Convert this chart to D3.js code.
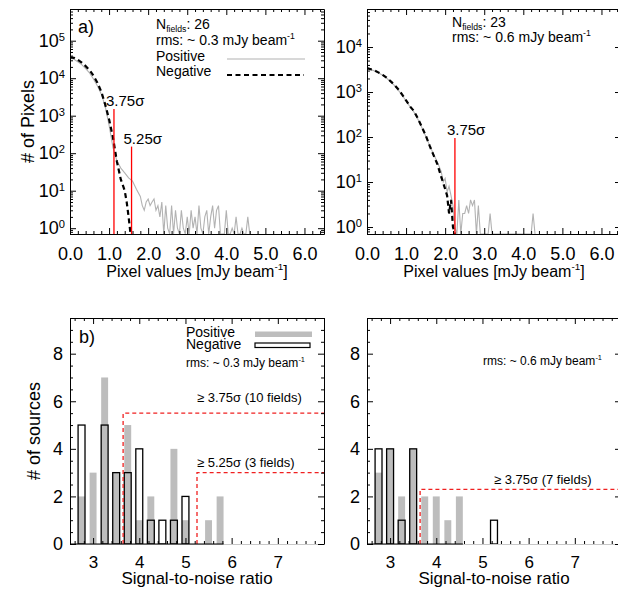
<!DOCTYPE html>
<html><head><meta charset="utf-8">
<script src="https://cdn.jsdelivr.net/npm/d3@7/dist/d3.min.js"></script>
<style>
html,body{margin:0;padding:0;background:#fff;}
svg{display:block;font-family:"Liberation Sans",Arial,Helvetica,sans-serif;}
</style></head><body>
<svg id="chart" width="618" height="590" viewBox="0 0 618 590"></svg>
<script>
// ================= DATA =================
// Panel a) left: rms ~0.3 mJy/beam, 26 fields (pixel value, number of pixels)
const tlPosX = [0,0.1,0.2,0.3,0.4,0.5,0.6,0.7,0.8,0.9,1.0,1.1,1.2,1.3,1.4,1.5,1.6,1.7,1.8,
  1.85,1.9,1.95,2.0,2.05,2.1,2.15,2.2,2.25,2.3,2.35,2.4,2.45,2.5,2.55,2.6,2.65,2.7,2.75,2.8,
  2.85,2.9,2.95,3.0,3.05,3.1,3.15,3.2,3.25,3.3,3.35,3.4,3.45,3.5,3.55,3.6,3.65,3.7,3.75,3.8,
  3.85,3.9,3.95,4.0,4.05,4.1,4.15,4.2,4.25,4.3,4.35,4.4,4.45,4.5,4.55,4.6];
const tlPosN = [34000,32000,27500,23000,18000,13800,9500,6300,3800,1800,560,140,63,40,30,22,18,11,7,
  4,3,5,6,4,5,6,3,4,2,5,0,4,1,0,4,0,3,1,0,
  3,1,0,2,0,3,1,2,0,4,1,0,2,3,0,2,4,1,3,4,
  0,0,0,3,0,0,1,0,2,0,0,1,0,0,2,0];
const tlNegX = [0,0.1,0.2,0.3,0.4,0.5,0.6,0.7,0.8,0.9,1.0,1.1,1.2,1.3,1.4,1.45,1.5,1.55];
const tlNegN = [36000,35000,31000,26000,21000,16500,11700,7600,4400,2000,800,260,60,20,10,5,2,0];
const tlSigma = [1.125, 1.575];          // 3.75 sigma, 5.25 sigma (mJy/beam)
const tlSigmaTop = [1500, 150];
const tlSigmaLabels = ["3.75σ", "5.25σ"];

// Panel a) right: rms ~0.6 mJy/beam, 23 fields
const trPosX = [0,0.1,0.2,0.3,0.4,0.5,0.6,0.7,0.8,0.9,1.0,1.1,1.2,1.3,1.4,1.5,1.6,1.7,1.8,1.9,
  1.95,2.0,2.05,2.1,2.15,2.2,2.25,2.3,2.35,2.4,2.45,2.5,2.55,2.6,2.65,2.7,2.75,2.8,2.85,2.9,
  2.95,3.0,3.05,3.1,3.15,3.2,4.2,4.25,4.3];
const trPosN = [3300,3150,2950,2650,2350,2050,1700,1400,1100,850,630,470,360,250,165,105,66,42,28,17,
  10,12,6,8,5,3,1,0,4,0,2,2,3,2,4,3,4,0,3,0,
  0,0,0,0,2,0,0,2,0];
const trNegX = [0,0.1,0.2,0.3,0.4,0.5,0.6,0.7,0.8,0.9,1.0,1.1,1.2,1.3,1.4,1.5,1.6,1.7,1.8,1.9,2.0,
  2.05,2.1,2.15,2.2,2.25];
const trNegN = [3400,3200,3000,2700,2400,2100,1750,1450,1150,880,650,480,380,260,170,110,65,40,25,13,7,
  5,2,4,1,0];
const trSigma = [2.25];
const trSigmaTop = [95];
const trSigmaLabels = ["3.75σ"];

// Panel b): number of sources per S/N bin
const snrBins = [2.75,3.0,3.25,3.5,3.75,4.0,4.25,4.5,4.75,5.0,5.25,5.5,5.75];
const blPos = [2,3,7,3,5,1,2,0,4,1,0,1,2];
const blNeg = [5,0,5,3,3,4,1,1,1,2,0,0,0];
const brPos = [3,4,2,4,2,2,1,2,0,0,0,0,0];
const brNeg = [4,4,1,4,0,0,0,0,0,0,1,0,0];
const blThreshX = [3.65, 5.25];
const blThreshY = [5.5, 3];
const blThreshLabels = ["≥ 3.75σ (10 fields)", "≥ 5.25σ (3 fields)"];
const brThreshX = [3.65];
const brThreshY = [2.3];
const brThreshLabels = ["≥ 3.75σ (7 fields)"];

// Axis ticks
const xTopMajor = [0,1,2,3,4,5,6];
const xTopLabels = ["0.0","1.0","2.0","3.0","4.0","5.0","6.0"];
const yTopMajorL = [1,10,100,1000,10000,100000];
const yTopMajorR = [1,10,100,1000,10000];
const xBotMajor = [3,4,5,6,7];
const yBotMajor = [0,2,4,6,8];

// ================= LAYOUT / STYLE =================
const svg = d3.select("#chart");
const lineGray = "#b2b2b2", barGray = "#bdbdbd", red = "#ff0000", redDash = "#f02020";
const L1 = 70, L2 = 367, PW = 254;
const T1 = 9, B1 = 234, T2 = 318, B2 = 544;

const xTL = d3.scaleLinear().domain([0,6.5]).range([L1, L1+PW]);
const xTR = d3.scaleLinear().domain([0,6.5]).range([L2, L2+PW]);
const yTL = d3.scaleLog().domain([0.7,7e5]).range([B1, T1]);
const yTR = d3.scaleLog().domain([0.7,7e4]).range([B1, T1]);
const xBL = d3.scaleLinear().domain([2.5,8]).range([L1, L1+PW]);
const xBR = d3.scaleLinear().domain([2.5,8]).range([L2, L2+PW]);
const yBL = d3.scaleLinear().domain([0,9.5]).range([B2, T2]);
const yBR = d3.scaleLinear().domain([0,9.5]).range([B2, T2]);

function minorLin(dom, step, majors){
  const out=[];
  for(let v=Math.ceil(dom[0]/step)*step; v<=dom[1]+1e-9; v+=step){
    const r=Math.round(v*1000)/1000;
    if(!majors.some(m=>Math.abs(m-r)<1e-6)) out.push(r);
  }
  return out;
}
function minorLog(dom){
  const out=[];
  for(let e=-1;e<=6;e++) for(let k=2;k<=9;k++){const v=k*Math.pow(10,e); if(v>=dom[0]&&v<=dom[1]) out.push(v);}
  return out;
}

function styleAxis(sel, fs){
  sel.attr("font-family",null).attr("font-size",fs);
  sel.selectAll(".tick line").attr("stroke","#000").attr("stroke-width",1);
  sel.selectAll(".tick text").attr("fill","#000");
  sel.select(".domain").attr("stroke","#000").attr("stroke-width",1);
  return sel;
}

function frame(g, xs, ys, o){
  const [xl,xr]=xs.range(), [yb,yt]=ys.range();
  const add=(axis,tr)=>g.append("g").attr("transform",tr).call(axis);
  const bx=styleAxis(add(d3.axisBottom(xs).tickValues(o.xMajor).tickSize(-6).tickSizeOuter(0)
      .tickPadding(o.xPad).tickFormat((d,i)=>o.xLabels[i]), `translate(0,${yb})`), o.xfs);
  if(o.bottomDomain) bx.select(".domain").attr("stroke",o.bottomDomain);
  styleAxis(add(d3.axisBottom(xs).tickValues(o.xMinor).tickSize(-3).tickSizeOuter(0).tickFormat(""),
      `translate(0,${yb})`),10).select(".domain").remove();
  styleAxis(add(d3.axisTop(xs).tickValues(o.xMajor).tickSize(-6).tickSizeOuter(0).tickFormat(""),
      `translate(0,${yt})`),10);
  styleAxis(add(d3.axisTop(xs).tickValues(o.xMinor).tickSize(-3).tickSizeOuter(0).tickFormat(""),
      `translate(0,${yt})`),10).select(".domain").remove();
  const ly=styleAxis(add(d3.axisLeft(ys).tickValues(o.yMajor).tickSize(-6).tickSizeOuter(0)
      .tickPadding(o.yPad).tickFormat(o.yFmt), `translate(${xl},0)`), o.yfs);
  styleAxis(add(d3.axisLeft(ys).tickValues(o.yMinor).tickSize(-3).tickSizeOuter(0).tickFormat(""),
      `translate(${xl},0)`),10).select(".domain").remove();
  styleAxis(add(d3.axisRight(ys).tickValues(o.yMajor).tickSize(-6).tickSizeOuter(0).tickFormat(""),
      `translate(${xr},0)`),10);
  styleAxis(add(d3.axisRight(ys).tickValues(o.yMinor).tickSize(-3).tickSizeOuter(0).tickFormat(""),
      `translate(${xr},0)`),10).select(".domain").remove();
  return ly;
}

function powLabels(axisG){
  axisG.selectAll(".tick text").each(function(d){
    const t=d3.select(this); t.text("10");
    t.append("tspan").attr("dy","-0.55em").attr("font-size","0.62em").text(Math.round(Math.log10(d)));
  });
}

function supTextPx(sel, fs, parts){
  let shift=0;
  parts.forEach(([txt,type])=>{
    const ts=sel.append("tspan").text(txt);
    const target = type==="sup"? -0.42*fs : type==="sub"? 0.22*fs : 0;
    ts.attr("dy",(target-shift));
    if(type!=="n") ts.attr("font-size",(0.62*fs)+"px");
    shift=target;
  });
}

const defs=svg.append("defs");
function clip(id,xs,ys){
  const [xl,xr]=xs.range(), [yb,yt]=ys.range();
  defs.append("clipPath").attr("id",id).append("rect").attr("x",xl).attr("y",yt).attr("width",xr-xl).attr("height",yb-yt);
  return `url(#${id})`;
}

// ---------- top panels ----------
function topPanel(xs, ys, posX, posN, negX, negN, sig, sigTop, sigLab, yMajor, id){
  const g=svg.append("g");
  const cp=clip(id,xs,ys);
  const yBottom=ys.range()[0];
  const line=d3.line().x(d=>xs(d[0])).y(d=>d[1]>0?ys(d[1]):yBottom);
  const pg=g.append("g").attr("clip-path",cp);
  pg.append("path").datum(d3.zip(posX,posN)).attr("d",line)
    .attr("fill","none").attr("stroke",lineGray).attr("stroke-width",1.1);
  pg.append("path").datum(d3.zip(negX,negN)).attr("d",line)
    .attr("fill","none").attr("stroke","#000").attr("stroke-width",2.2).attr("stroke-dasharray","5,3.5");
  sig.forEach((v,i)=>{
    g.append("line").attr("x1",xs(v)).attr("x2",xs(v)).attr("y1",yBottom).attr("y2",ys(sigTop[i]))
      .attr("stroke",red).attr("stroke-width",1.3);
    g.append("text").attr("x",xs(v)-8).attr("y",ys(sigTop[i])-3).attr("font-size",15).text(sigLab[i]);
  });
  const ly=frame(g,xs,ys,{xMajor:xTopMajor,xLabels:xTopLabels,xMinor:minorLin(xs.domain(),0.2,xTopMajor),
    yMajor:yMajor,yMinor:minorLog(ys.domain()),yFmt:d=>"",xPad:13,yPad:5,xfs:18,yfs:18});
  powLabels(ly);
  const cx=(xs.range()[0]+xs.range()[1])/2;
  const t=g.append("text").attr("x",Math.min(cx,494)).attr("y",277).attr("text-anchor","middle").attr("font-size",16);
  supTextPx(t,16,[["Pixel values [mJy beam","n"],["-1","sup"],["]","n"]]);
  return g;
}

const gTL=topPanel(xTL,yTL,tlPosX,tlPosN,tlNegX,tlNegN,tlSigma,tlSigmaTop,tlSigmaLabels,yTopMajorL,"cTL");
const gTR=topPanel(xTR,yTR,trPosX,trPosN,trNegX,trNegN,trSigma,trSigmaTop,trSigmaLabels,yTopMajorR,"cTR");

gTL.append("text").attr("x",L1+8).attr("y",33).attr("font-size",18).text("a)");
supTextPx(gTL.append("text").attr("x",L1+86).attr("y",29).attr("font-size",14),14,[["N","n"],["fields","sub"],[": 26","n"]]);
supTextPx(gTL.append("text").attr("x",L1+86).attr("y",45).attr("font-size",14),14,[["rms: ~ 0.3 mJy beam","n"],["-1","sup"]]);
gTL.append("text").attr("x",L1+86).attr("y",61).attr("font-size",14).text("Positive");
gTL.append("text").attr("x",L1+86).attr("y",76).attr("font-size",14).text("Negative");
gTL.append("line").attr("x1",227).attr("x2",305).attr("y1",59).attr("y2",59).attr("stroke",lineGray).attr("stroke-width",1.1);
gTL.append("line").attr("x1",227).attr("x2",304).attr("y1",75).attr("y2",75).attr("stroke","#000").attr("stroke-width",2.2).attr("stroke-dasharray","5,3.5");
gTL.append("text").attr("transform",`translate(34,${(T1+B1)/2}) rotate(-90)`).attr("text-anchor","middle").attr("font-size",18).text("# of Pixels");
supTextPx(gTR.append("text").attr("x",L2+85).attr("y",27).attr("font-size",14),14,[["N","n"],["fields","sub"],[": 23","n"]]);
supTextPx(gTR.append("text").attr("x",L2+85).attr("y",42).attr("font-size",14),14,[["rms: ~ 0.6 mJy beam","n"],["-1","sup"]]);

// ---------- bottom panels ----------
const BW=0.15;
function botPanel(xs, ys, pos, neg, thX, thY, thLab, thDy, id){
  const g=svg.append("g");
  const cp=clip(id,xs,ys);
  const pg=g.append("g").attr("clip-path",cp);
  const data=d3.zip(snrBins,pos,neg);
  pg.selectAll("rect.pos").data(data.filter(d=>d[1]>0)).join("rect").attr("class","pos")
    .attr("x",d=>xs(d[0]-BW/2)).attr("width",d=>xs(d[0]+BW/2)-xs(d[0]-BW/2))
    .attr("y",d=>ys(d[1])).attr("height",d=>ys(0)-ys(d[1])).attr("fill",barGray);
  pg.selectAll("rect.neg").data(data.filter(d=>d[2]>0)).join("rect").attr("class","neg")
    .attr("x",d=>xs(d[0]-BW/2)).attr("width",d=>xs(d[0]+BW/2)-xs(d[0]-BW/2))
    .attr("y",d=>ys(d[2])).attr("height",d=>ys(0)-ys(d[2])).attr("fill","none")
    .attr("stroke","#000").attr("stroke-width",1.3);
  const xEnd=xs.range()[1];
  thX.forEach((tx,i)=>{
    pg.append("path").attr("d",`M${xs(tx)},${ys(0)}L${xs(tx)},${ys(thY[i])}L${xEnd},${ys(thY[i])}`)
      .attr("fill","none").attr("stroke",redDash).attr("stroke-width",1.3).attr("stroke-dasharray","4,3");
    g.append("text").attr("x",xs(5.25)).attr("y",ys(thY[i])-thDy[i]).attr("font-size",13).text(thLab[i]);
  });
  frame(g,xs,ys,{xMajor:xBotMajor,xLabels:xBotMajor.map(String),xMinor:minorLin(xs.domain(),0.2,xBotMajor),
    yMajor:yBotMajor,yMinor:minorLin(ys.domain(),0.5,yBotMajor),yFmt:d=>String(d),xPad:12,yPad:7,xfs:17,yfs:18,
    bottomDomain:"#c8c8c8"});
  const lastPos=d3.max(data.filter(d=>d[1]>0),d=>d[0]);
  g.append("line").attr("x1",xs.range()[0]).attr("x2",xs(lastPos+BW/2)).attr("y1",ys(0)).attr("y2",ys(0))
    .attr("stroke","#000").attr("stroke-width",1.2);
  const cx=(xs.range()[0]+xs.range()[1])/2;
  g.append("text").attr("x",Math.min(cx,494)).attr("y",584).attr("text-anchor","middle").attr("font-size",17)
    .text("Signal-to-noise ratio");
  return g;
}
const gBL=botPanel(xBL,yBL,blPos,blNeg,blThreshX,blThreshY,blThreshLabels,[11.6,6],"cBL");
const gBR=botPanel(xBR,yBR,brPos,brNeg,brThreshX,brThreshY,brThreshLabels,[5],"cBR");

gBL.append("text").attr("x",L1+9).attr("y",343).attr("font-size",18).text("b)");
gBL.append("text").attr("x",L1+116).attr("y",337).attr("font-size",14).text("Positive");
gBL.append("text").attr("x",L1+116).attr("y",349).attr("font-size",14).text("Negative");
gBL.append("rect").attr("x",255).attr("y",331.5).attr("width",57).attr("height",5.5).attr("fill",barGray);
gBL.append("rect").attr("x",255).attr("y",343).attr("width",55).attr("height",4.5).attr("fill","none").attr("stroke","#000").attr("stroke-width",1.2);
supTextPx(gBL.append("text").attr("x",L1+116).attr("y",367).attr("font-size",12),12,[["rms: ~ 0.3 mJy beam","n"],["-1","sup"]]);
gBL.append("text").attr("transform",`translate(40,${(T2+B2)/2}) rotate(-90)`).attr("text-anchor","middle").attr("font-size",18).text("# of sources");
supTextPx(gBR.append("text").attr("x",L2+116).attr("y",365).attr("font-size",12),12,[["rms: ~ 0.6 mJy beam","n"],["-1","sup"]]);
</script></body></html>
